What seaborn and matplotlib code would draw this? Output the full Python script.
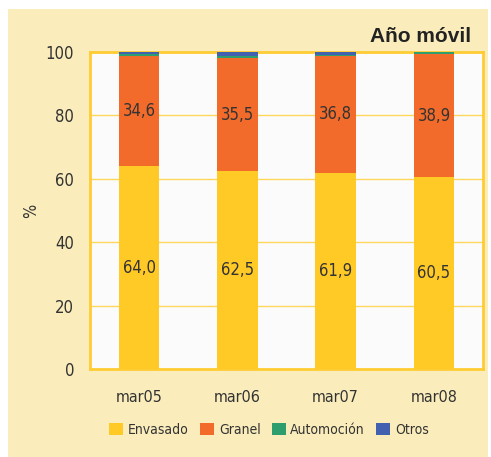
import matplotlib
matplotlib.use('Agg')
import matplotlib.pyplot as plt
from matplotlib.patches import Rectangle, Patch
import seaborn as sns
import pandas as pd
import numpy as np

# datos (% del volumen, año móvil)
periodos = ['mar05', 'mar06', 'mar07', 'mar08']
envasado = [64.0, 62.5, 61.9, 60.5]
granel = [34.6, 35.5, 36.8, 38.9]
automocion = [0.7, 0.7, 0.5, 0.6]
otros = [0.7, 1.3, 0.8, 0.0]

series = ['Envasado', 'Granel', 'Automoción', 'Otros']
colores = ['#FFC926', '#F26B2B', '#2E9E6E', '#4262B0']

df = pd.DataFrame({'periodo': periodos, 'Envasado': envasado, 'Granel': granel,
                   'Automoción': automocion, 'Otros': otros})
cum = df[series].cumsum(axis=1)

sns.set_style('white')
plt.rcParams['font.family'] = ['DejaVu Sans']
plt.rcParams['font.stretch'] = 'condensed'
txt = '#333333'
oro = '#FFCC33'

fig = plt.figure(figsize=(4.91, 4.57), dpi=100)
fig.patch.set_facecolor('white')
fig.patches.append(Rectangle((8 / 491, 0), 480 / 491, 448 / 457, transform=fig.transFigure,
                             facecolor='#FAEDBB', edgecolor='none', zorder=-10))
ax = fig.add_axes([90 / 491, 1 - 369 / 457, 393 / 491, 317 / 457])
ax.set_facecolor('#FBFBFB')

# barras apiladas: se dibuja de la suma total hacia abajo
for s, c in zip(series[::-1], colores[::-1]):
    sns.barplot(x=df['periodo'], y=cum[s], color=c, width=0.41, ax=ax,
                saturation=1, linewidth=0, zorder=3)

for i in range(len(periodos)):
    ax.text(i, envasado[i] / 2, f'{envasado[i]:.1f}'.replace('.', ','), ha='center',
            va='center', fontsize=12, color=txt, zorder=5)
    ax.text(i, envasado[i] + granel[i] / 2, f'{granel[i]:.1f}'.replace('.', ','),
            ha='center', va='center', fontsize=12, color=txt, zorder=5)

ax.set_xlim(-0.5, 3.5)
ax.set_ylim(0, 100)
ax.set_yticks(range(0, 101, 20))
ax.yaxis.grid(True, color='#FFD75A', linewidth=1.0, zorder=0)
ax.set_axisbelow(True)
ax.set_xlabel('')
ax.set_ylabel('%', fontsize=12, color=txt)
ax.yaxis.set_label_coords(-0.127, 0.5)
ax.set_xticks(range(4))
ax.set_xticklabels(periodos)
ax.set_xticks(np.arange(-0.5, 4, 1), minor=True)
ax.tick_params(axis='x', which='major', length=0, pad=15, labelsize=11.5, colors=txt)
ax.tick_params(axis='x', which='minor', length=5, width=1.2, color=oro, direction='out')
ax.tick_params(axis='y', length=5, width=1.2, color=oro, labelsize=12, labelcolor=txt, pad=6.5)
for sp in ax.spines.values():
    sp.set_visible(True)
    sp.set_color(oro)
    sp.set_linewidth(2)

fig.text(471 / 491, 1 - 37 / 457, 'Año móvil', ha='right', va='center', fontsize=15,
         fontweight='bold', color='#222222', family=['Liberation Sans', 'DejaVu Sans'],
         fontstretch='normal')

handles = [Patch(facecolor=c, edgecolor='none') for c in colores]
fig.legend(handles, series, loc='center', bbox_to_anchor=(269 / 491, 1 - 430 / 457), ncol=4,
           frameon=False, handlelength=1.0, handleheight=1.0, handletextpad=0.35,
           columnspacing=0.8, fontsize=10, labelcolor=txt)

fig.savefig('out.png', dpi=100)
